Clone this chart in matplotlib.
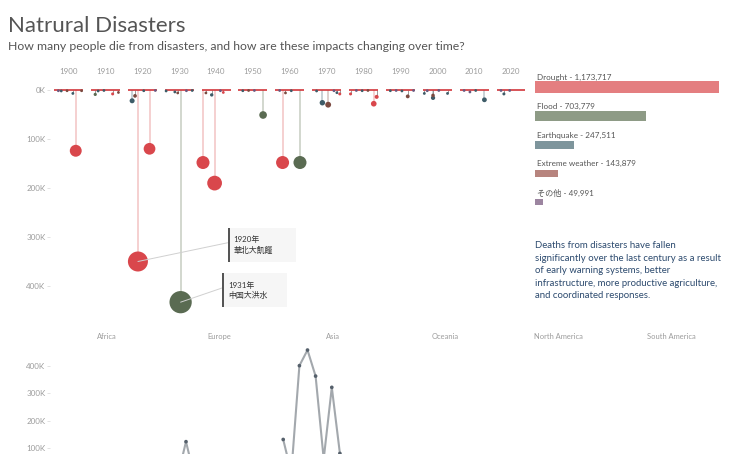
import matplotlib
matplotlib.use("Agg")
import matplotlib.pyplot as plt
from matplotlib.patches import Rectangle
import numpy as np

plt.rcParams['font.family'] = ['Lato', 'Noto Sans CJK JP', 'DejaVu Sans']

# ---------------- data ----------------
decades = [1900, 1910, 1920, 1930, 1940, 1950, 1960, 1970, 1980, 1990, 2000, 2010, 2020]

event_years = [1901, 1902, 1904, 1906, 1907, 1909,
               1911, 1912, 1914, 1917, 1919,
               1921, 1922, 1923, 1925, 1927, 1929,
               1930, 1933, 1934, 1935, 1937, 1939,
               1940, 1941, 1943, 1944, 1946, 1947,
               1951, 1953, 1955, 1958,
               1961, 1962, 1963, 1965, 1968,
               1971, 1973, 1975, 1977, 1978, 1979,
               1980, 1982, 1984, 1986, 1988, 1989,
               1991, 1993, 1995, 1997, 1999,
               2000, 2001, 2003, 2003, 2005, 2008,
               2011, 2013, 2015, 2018,
               2021, 2022, 2024]
event_deaths = [1500, 2000, 1500, 7000, 124000, 1500,
                9000, 2000, 1000, 8000, 5000,
                22000, 12000, 350000, 1500, 120000, 1000,
                2000, 4000, 6000, 433000, 1500, 1000,
                148000, 6000, 10000, 190000, 1500, 5000,
                1500, 1000, 1000, 51000,
                1000, 148000, 6000, 1500, 148000,
                2000, 26000, 30000, 1500, 5500, 8000,
                8000, 1000, 1500, 1000, 28000, 14000,
                1500, 1000, 2000, 13000, 1000,
                7000, 1500, 16000, 11000, 1000, 7000,
                1000, 4000, 1000, 20000,
                1000, 8000, 1000]
event_types = ['Other', 'Earthquake', 'Extreme weather', 'Earthquake', 'Drought', 'Extreme weather',
               'Flood', 'Earthquake', 'Earthquake', 'Drought', 'Extreme weather',
               'Earthquake', 'Extreme weather', 'Drought', 'Earthquake', 'Drought', 'Other',
               'Earthquake', 'Earthquake', 'Extreme weather', 'Flood', 'Other', 'Earthquake',
               'Drought', 'Extreme weather', 'Earthquake', 'Drought', 'Other', 'Drought',
               'Earthquake', 'Extreme weather', 'Other', 'Flood',
               'Other', 'Drought', 'Extreme weather', 'Earthquake', 'Flood',
               'Earthquake', 'Earthquake', 'Extreme weather', 'Other', 'Earthquake', 'Drought',
               'Drought', 'Other', 'Earthquake', 'Extreme weather', 'Drought', 'Drought',
               'Earthquake', 'Other', 'Earthquake', 'Extreme weather', 'Other',
               'Earthquake', 'Other', 'Earthquake', 'Extreme weather', 'Other', 'Earthquake',
               'Other', 'Other', 'Earthquake', 'Earthquake',
               'Other', 'Earthquake', 'Other']

annot_years = [1923, 1935]
annot_deaths = [350000, 433000]
annot_texts = ['1920年\n華北大飢饉', '1931年\n中国大洪水']

top_ticks = [0, 100000, 200000, 300000, 400000]
top_tick_labels = ['0K', '100K', '200K', '300K', '400K']

totals_names = ['Drought', 'Flood', 'Earthquake', 'Extreme weather', 'その他']
totals_values = [1173717, 703779, 247511, 143879, 49991]

regions = ['Africa', 'Europe', 'Asia', 'Oceania', 'North America', 'South America']

bottom_years = [1919, 1920, 1921, 1932, 1933, 1934, 1935, 1936, 1937, 1938, 1939, 1940]
bottom_values = [0, 123000, 0, 131000, 10000, 400000, 457000, 362000, 60000, 321000, 80000, 20000]
bottom_ticks = [100000, 200000, 300000, 400000]
bottom_tick_labels = ['100K', '200K', '300K', '400K']

description = ["Deaths from disasters have fallen",
               "significantly over the last century as a result",
               "of early warning systems, better",
               "infrastructure, more productive agriculture,",
               "and coordinated responses."]

# ---------------- styles ----------------
dot_colors = {'Drought': '#d9474c', 'Flood': '#5a6b52', 'Earthquake': '#3e5c68',
              'Extreme weather': '#7b4a40', 'Other': '#6a5a80'}
stem_colors = {'Drought': '#f2c3c4', 'Flood': '#c6cdc1', 'Earthquake': '#b9c5ca',
               'Extreme weather': '#d5c2be', 'Other': '#cdc6d6'}
bar_colors = ['#e47e80', '#8e9b86', '#7e959c', '#b7847e', '#9c85a0']
bar_heights = [0.43, 0.35, 0.29, 0.27, 0.22]

W, H = 736, 454
fig = plt.figure(figsize=(W / 100, H / 100), dpi=100)
fig.patch.set_facecolor('white')


def fx(px):
    return px / W


def fy(py):
    return 1 - py / H


GREY = '#9c9c9c'
PITCH = 12.72
PXU = 2.9  # pixels per year unit in top chart


def pos(year):
    return (year // 10 - 190) * PITCH + year % 10


# ---------------- top lollipop chart ----------------
ax = fig.add_axes([fx(50), fy(320), (525 - 50) / W, (320 - 80) / H])
ax.set_xlim((50 - 54) / PXU - 0.5, (525 - 54) / PXU - 0.5)
ymin_top = -(90 - 80) / 49 * 100000
ymax_top = (320 - 90) / 49 * 100000
ax.set_ylim(ymax_top, ymin_top)
for s in ax.spines.values():
    s.set_visible(False)

xs = np.array([pos(y) for y in event_years], dtype=float)
ds = np.array(event_deaths, dtype=float)
order = np.argsort(-ds)
for i in order:
    c = stem_colors[event_types[i]] if ds[i] > 15000 else '#8a8a8a'
    ax.plot([xs[i], xs[i]], [0, ds[i]], color=c, lw=1.1 if ds[i] > 15000 else 0.6,
            zorder=1, solid_capstyle='butt')
for d in decades:
    p0 = (d // 10 - 190) * PITCH
    ax.plot([p0 - 0.5, p0 + 9.5], [0, 0], color='#d2363b', lw=1.2, zorder=2,
            solid_capstyle='butt')
sizes = np.maximum(0.5935 * ds / 1000, 4.0)
for i in order:
    ax.scatter(xs[i], ds[i], s=sizes[i], color=dot_colors[event_types[i]],
               edgecolors='none', zorder=3)

ax.set_xticks([(d // 10 - 190) * PITCH + 4.5 for d in decades])
ax.set_xticklabels([str(d) for d in decades])
ax.xaxis.tick_top()
ax.tick_params(axis='x', length=0, pad=3.5, labelsize=5.8, labelcolor=GREY)
ax.set_yticks(top_ticks)
ax.set_yticklabels(top_tick_labels)
ax.tick_params(axis='y', length=2, width=0.6, color='#dddddd', pad=1.2,
               labelsize=5.8, labelcolor=GREY)

# annotation boxes
boxes = [(227.7, 228, 295.7, 261.5), (222.3, 273.3, 287.3, 306.5)]
for (yr, dv, txt, (x0, y0, x1, y1)) in zip(annot_years, annot_deaths, annot_texts, boxes):
    fig.add_artist(Rectangle((fx(x0), fy(y1)), (x1 - x0) / W, (y1 - y0) / H,
                             transform=fig.transFigure, facecolor='#f6f6f6',
                             edgecolor='none', zorder=5))
    fig.add_artist(Rectangle((fx(x0), fy(y1)), 2 / W, (y1 - y0) / H,
                             transform=fig.transFigure, facecolor='#555555',
                             edgecolor='none', zorder=6))
    fig.text(fx(x0 + 6), fy((y0 + y1) / 2), txt, fontsize=5.7, color='#333333',
             va='center', ha='left', linespacing=1.35, zorder=7)
    ax.annotate('', xy=(pos(yr), dv), xycoords='data',
                xytext=(x0, H - (y0 + y1) / 2 + 2), textcoords='figure pixels',
                arrowprops=dict(arrowstyle='-', color='#d0d0d0', lw=0.7,
                                shrinkA=0, shrinkB=0), zorder=4)

# ---------------- region labels ----------------
for i, r in enumerate(regions):
    fig.text(fx(50 + (i + 0.5) * 113), fy(338.6), r, fontsize=5.4, color=GREY,
             ha='center', va='baseline')

# ---------------- totals bar chart ----------------
bx_max = 1.18e6
bw = bx_max / totals_values[0] * 184.3
bax = fig.add_axes([fx(535), fy(216.6), bw / W, 143.75 / H])
bax.set_xlim(0, bx_max)
bax.set_ylim(4.5, -0.5)
bax.axis('off')
yy = np.arange(len(totals_values))
bax.barh(yy, totals_values, height=bar_heights, color=bar_colors)
for i, (n, v) in enumerate(zip(totals_names, totals_values)):
    bax.annotate(f'{n} - {v:,}', xy=(0, i), xytext=(1.4, 6.9), textcoords='offset points',
                 fontsize=5.9, color='#555555', va='center', ha='left')

# ---------------- description ----------------
for i, line in enumerate(description):
    fig.text(fx(535), fy(245.7 + i * 12.5), line, fontsize=6.9, color='#2c4a6e',
             va='center', ha='left')

# ---------------- title ----------------
fig.text(fx(8), fy(26.5), 'Natrural Disasters', fontsize=16, color='#555555',
         va='center', ha='left')
fig.text(fx(8), fy(46.5), 'How many people die from disasters, and how are these impacts changing over time?',
         fontsize=8.8, color='#555555', va='center', ha='left')

# ---------------- bottom line chart ----------------
PXY = 8.1
lax = fig.add_axes([fx(50), 0, 680 / W, 109 / H])
lax.set_xlim(1920 - 136 / PXY, 1920 + 544 / PXY)
lax.set_ylim((475.4 - 454) / 27.43 * 100000, (475.4 - 345) / 27.43 * 100000)
for s in lax.spines.values():
    s.set_visible(False)
by = np.array(bottom_years, dtype=float)
bv = np.array(bottom_values, dtype=float)
breaks = np.where(np.diff(by) > 1)[0] + 1
for seg_y, seg_v in zip(np.split(by, breaks), np.split(bv, breaks)):
    lax.plot(seg_y, seg_v, color='#a3a8ad', lw=1.5, zorder=2)
lax.scatter(by, bv, s=7, color='#55606b', zorder=3, edgecolors='none')
lax.set_xticks([])
lax.set_yticks(bottom_ticks)
lax.set_yticklabels(bottom_tick_labels)
lax.tick_params(axis='y', length=2, width=0.6, color='#dddddd', pad=1.2,
                labelsize=5.8, labelcolor=GREY)

fig.savefig('out.png', dpi=100, facecolor='white')
